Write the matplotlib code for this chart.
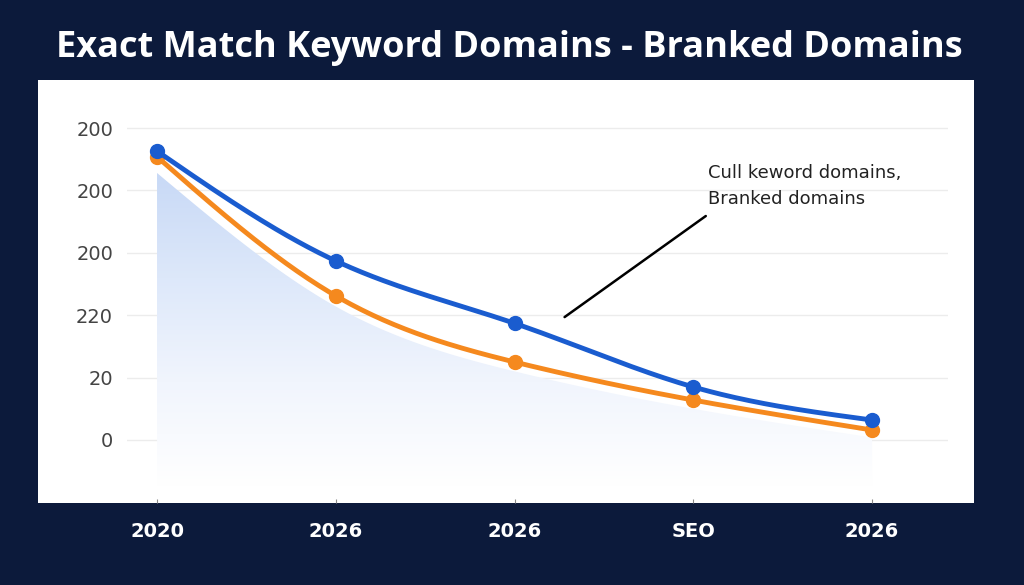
import numpy as np
import matplotlib.pyplot as plt
from matplotlib.patches import Rectangle
from matplotlib.colors import LinearSegmentedColormap

# chart data
x_labels = ["2020", "2026", "2026", "SEO", "2026"]
y_labels = ["0", "20", "220", "200", "200", "200"]
blue_vals = [4.63, 2.87, 1.87, 0.85, 0.32]
orange_vals = [4.54, 2.31, 1.25, 0.64, 0.16]
area_vals = [4.28, 2.14, 1.10, 0.50, 0.04]
note = "Cull keword domains,\nBranked domains"
title = "Exact Match Keyword Domains - Branked Domains"

bg = "#0c1a3b"
blue = "#1a5ccf"
orange = "#f5891e"


def smooth(xs, ys, n=200):
    # natural cubic spline, only used to draw the lines smoothly
    xs = np.asarray(xs, float)
    ys = np.asarray(ys, float)
    k = len(xs)
    h = np.diff(xs)
    A = np.zeros((k, k))
    r = np.zeros(k)
    A[0, 0] = A[-1, -1] = 1
    for i in range(1, k - 1):
        A[i, i - 1] = h[i - 1]
        A[i, i] = 2 * (h[i - 1] + h[i])
        A[i, i + 1] = h[i]
        r[i] = 6 * ((ys[i + 1] - ys[i]) / h[i] - (ys[i] - ys[i - 1]) / h[i - 1])
    M = np.linalg.solve(A, r)
    xx = np.linspace(xs[0], xs[-1], n)
    idx = np.clip(np.searchsorted(xs, xx) - 1, 0, k - 2)
    a = xs[idx + 1] - xx
    b = xx - xs[idx]
    hi = h[idx]
    yy = (M[idx] * a**3 + M[idx + 1] * b**3) / (6 * hi) \
        + (ys[idx] / hi - M[idx] * hi / 6) * a + (ys[idx + 1] / hi - M[idx + 1] * hi / 6) * b
    return xx, yy


fig = plt.figure(figsize=(10.24, 5.85), dpi=100, facecolor=bg)

# white panel behind the axes
panel = Rectangle((38 / 1024, 1 - 503 / 585), (974 - 38) / 1024, (503 - 80) / 585,
                  transform=fig.transFigure, facecolor="white", edgecolor="none", zorder=-10)
fig.patches.append(panel)

ax = fig.add_axes([127 / 1024, 1 - 503 / 585, (948 - 127) / 1024, (503 - 80) / 585])
ax.set_facecolor("none")

x = np.arange(len(x_labels))

# gradient area
ax_x, ax_y = smooth(x, area_vals)
bottom = -0.75
poly = ax.fill_between(ax_x, ax_y, bottom, color="none", lw=0)
grad = np.linspace(0, 1, 256).reshape(-1, 1)
cmap = LinearSegmentedColormap.from_list("g", ["#ffffff", "#f1f5fd", "#dde8fa", "#c8d9f6"])
im = ax.imshow(grad, extent=[x[0], x[-1], bottom, area_vals[0]], origin="lower",
               aspect="auto", cmap=cmap, zorder=1)
im.set_clip_path(poly.get_paths()[0], transform=ax.transData)

ox, oy = smooth(x, orange_vals)
ax.plot(ox, oy, color=orange, lw=3.5, zorder=3, solid_capstyle="round")
ax.plot(x, orange_vals, "o", color=orange, ms=10, zorder=3)
bx, by = smooth(x, blue_vals)
ax.plot(bx, by, color=blue, lw=3.5, zorder=4, solid_capstyle="round")
ax.plot(x, blue_vals, "o", color=blue, ms=10, zorder=4)

ax.set_xlim(-0.168, 4.425)
ax.set_ylim(-1.01, 5.77)
ax.set_yticks(range(len(y_labels)))
ax.set_yticklabels(y_labels, fontsize=14, color="#444444")
ax.set_xticks(x)
ax.set_xticklabels(x_labels, fontsize=14, color="white", fontweight="semibold")
ax.tick_params(axis="y", length=0, pad=10)
ax.tick_params(axis="x", length=3, direction="in", color="#888888", pad=14)
ax.grid(axis="y", color="#ececec", lw=1)
ax.set_axisbelow(True)
for s in ax.spines.values():
    s.set_visible(False)

# callout
ax.annotate("", xy=(2.28, 1.97), xytext=(3.07, 3.59),
            arrowprops=dict(arrowstyle="-", color="black", lw=1.8, shrinkA=0, shrinkB=0))
ax.text(3.08, 4.07, note, fontsize=13, color="#222222", ha="left", va="center",
        linespacing=1.55)

fig.text(0.497, 0.918, title, ha="center", va="center", color="white",
         fontsize=26, fontweight="bold", family="Open Sans")

fig.savefig("out.png", dpi=100, facecolor=bg)
